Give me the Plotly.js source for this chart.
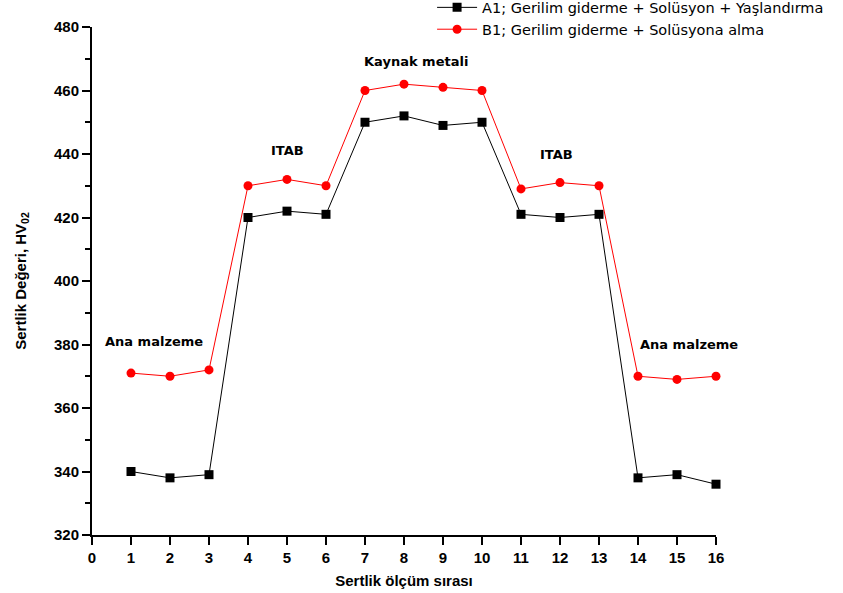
<!DOCTYPE html>
<html>
<head>
<meta charset="utf-8">
<script src="https://cdn.plot.ly/plotly-3.0.1.min.js"></script>
<style>body{margin:0;padding:0;background:#fff;}#chart{width:843px;height:593px;}</style>
</head>
<body>
<div id="chart"></div>
<script>
const xValues = [1,2,3,4,5,6,7,8,9,10,11,12,13,14,15,16];
const seriesA1 = [340,338,339,420,422,421,450,452,449,450,421,420,421,338,339,336];
const seriesB1 = [371,370,372,430,432,430,460,462,461,460,429,431,430,370,369,370];
const nameA1 = "A1; Gerilim giderme + Solüsyon + Yaşlandırma";
const nameB1 = "B1; Gerilim giderme + Solüsyona alma";
const xTicks = [0,1,2,3,4,5,6,7,8,9,10,11,12,13,14,15,16];
const yTicks = [320,340,360,380,400,420,440,460,480];
const labelText = ["Ana malzeme","ITAB","Kaynak metali","ITAB","Ana malzeme"];
const labelX = [1.6,5.0,8.3,11.9,15.3];
const labelY = [381,441,469,440,380];

const traces = [
  {x:xValues,y:seriesA1,name:nameA1,type:'scatter',mode:'lines+markers',
   line:{color:'#000',width:1},marker:{symbol:'square',size:9,color:'#000'},cliponaxis:false},
  {x:xValues,y:seriesB1,name:nameB1,type:'scatter',mode:'lines+markers',
   line:{color:'#ff0000',width:1},marker:{symbol:'circle',size:9,color:'#ff0000'},cliponaxis:false}
];
const annotations = labelText.map((t,i)=>({x:labelX[i],y:labelY[i],xref:'x',yref:'y',text:'<b>'+t+'</b>',
  showarrow:false,font:{family:'DejaVu Sans, Arial',size:13,color:'#000'}}));
const layout = {
  width:843,height:593,
  margin:{l:92,r:127,t:27,b:58,autoexpand:false},
  paper_bgcolor:'#fff',plot_bgcolor:'#fff',
  showlegend:true,
  legend:{x:0.545,y:1.07,xanchor:'left',yanchor:'top',bgcolor:'rgba(0,0,0,0)',
    font:{family:'DejaVu Sans, Arial',size:14.5,color:'#000'},tracegroupgap:0,itemwidth:40},
  xaxis:{range:[0,16],tickvals:xTicks,ticktext:xTicks.map(String),showgrid:false,zeroline:false,
    showline:true,linecolor:'#000',linewidth:2,ticks:'outside',ticklen:8,tickwidth:2,tickcolor:'#000',
    tickfont:{family:'Liberation Sans, Arial',size:15,color:'#000',weight:'bold'},
    title:{text:'<b>Sertlik ölçüm sırası</b>',font:{family:'Liberation Sans, Arial',size:15,color:'#000'},standoff:10}},
  yaxis:{range:[320,480],tickvals:yTicks,showgrid:false,zeroline:false,
    showline:true,linecolor:'#000',linewidth:2,ticks:'outside',ticklen:8,tickwidth:2,tickcolor:'#000',
    tickfont:{family:'Liberation Sans, Arial',size:15,color:'#000',weight:'bold'},
    minor:{dtick:10,ticks:'outside',ticklen:5,tickwidth:2,tickcolor:'#000',showgrid:false},
    title:{text:'<b>Sertlik Değeri, HV<sub>02</sub></b>',font:{family:'Liberation Sans, Arial',size:15,color:'#000'},standoff:24}},
  annotations:annotations
};
Plotly.newPlot('chart',traces,layout,{displayModeBar:false,staticPlot:true});
</script>
</body>
</html>
